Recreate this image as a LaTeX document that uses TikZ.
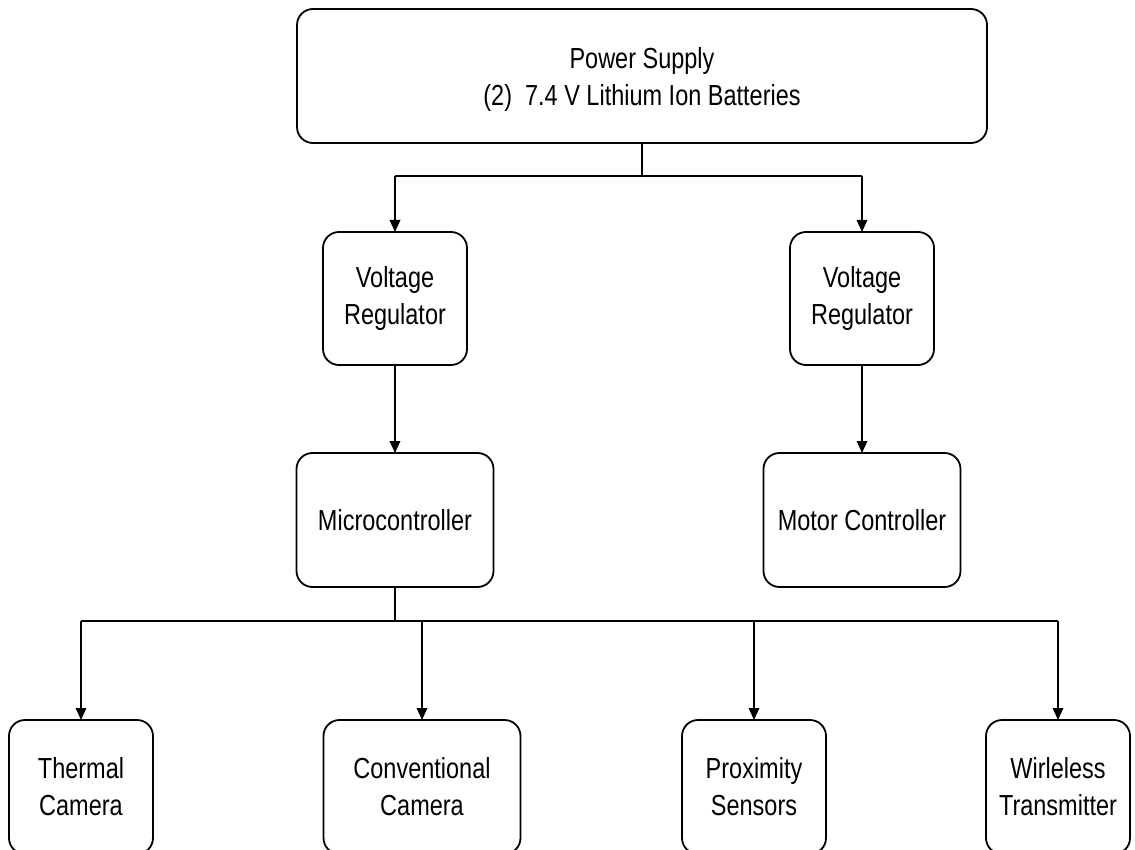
\documentclass[tikz,border=0pt]{standalone}
\usepackage{fontspec}
\setmainfont{Liberation Sans}[FakeStretch=0.81]
\usetikzlibrary{arrows.meta}

\tikzset{
  block/.style={draw, rounded corners=16pt, line width=1.8pt, inner sep=0pt,
    outer sep=0pt, align=center, font=\fontsize{29}{37}\selectfont},
  wire/.style={line width=1.8pt},
  feed/.style={wire, -{Triangle[length=12pt,width=10.5pt]}}
}

\begin{document}
\begin{tikzpicture}[x=1pt,y=-1pt]
  \useasboundingbox (0,0) rectangle (1135,850);
  \clip (0,0) rectangle (1135,850);

  % supply
  \node[block, minimum width=690pt, minimum height=134pt, text depth=0pt]
        (ps) at (642,76)
        {Power Supply\\(2)\ \ 7.4 V Lithium Ion Batteries};

  % regulators
  \node[block, minimum width=144pt, minimum height=133pt] (vr1) at (395,298.5)
        {Voltage\\Regulator};
  \node[block, minimum width=144pt, minimum height=133pt] (vr2) at (862,298.5)
        {Voltage\\Regulator};

  % controllers
  \node[block, minimum width=197pt, minimum height=134pt] (mcu) at (395,520)
        {Microcontroller};
  \node[block, minimum width=197pt, minimum height=134pt] (mot) at (862,520)
        {Motor Controller};

  % peripherals
  \node[block, minimum width=144pt, minimum height=134pt] (thc) at (81,787)
        {Thermal\\Camera};
  \node[block, minimum width=197pt, minimum height=134pt] (cvc) at (422,787)
        {Conventional\\Camera};
  \node[block, minimum width=144pt, minimum height=134pt] (prx) at (754,787)
        {Proximity\\Sensors};
  \node[block, minimum width=144pt, minimum height=134pt] (wtx) at (1058,787)
        {Wirleless\\Transmitter};

  % power distribution
  \coordinate (psbus) at (642,176);
  \draw[wire] (ps.south -| psbus) -- (psbus);
  \draw[wire] (psbus -| vr1) -- (psbus -| vr2);
  \draw[feed] (psbus -| vr1) -- (vr1.north);
  \draw[feed] (psbus -| vr2) -- (vr2.north);

  \draw[feed] (vr1.south) -- (mcu.north);
  \draw[feed] (vr2.south) -- (mot.north);

  % microcontroller bus
  \coordinate (mcbus) at (395,621);
  \draw[wire] (mcu.south -| mcbus) -- (mcbus);
  \draw[wire] (mcbus -| thc) -- (mcbus -| wtx);
  \draw[feed] (mcbus -| thc) -- (thc.north);
  \draw[feed] (mcbus -| cvc) -- (cvc.north);
  \draw[feed] (mcbus -| prx) -- (prx.north);
  \draw[feed] (mcbus -| wtx) -- (wtx.north);
\end{tikzpicture}
\end{document}
